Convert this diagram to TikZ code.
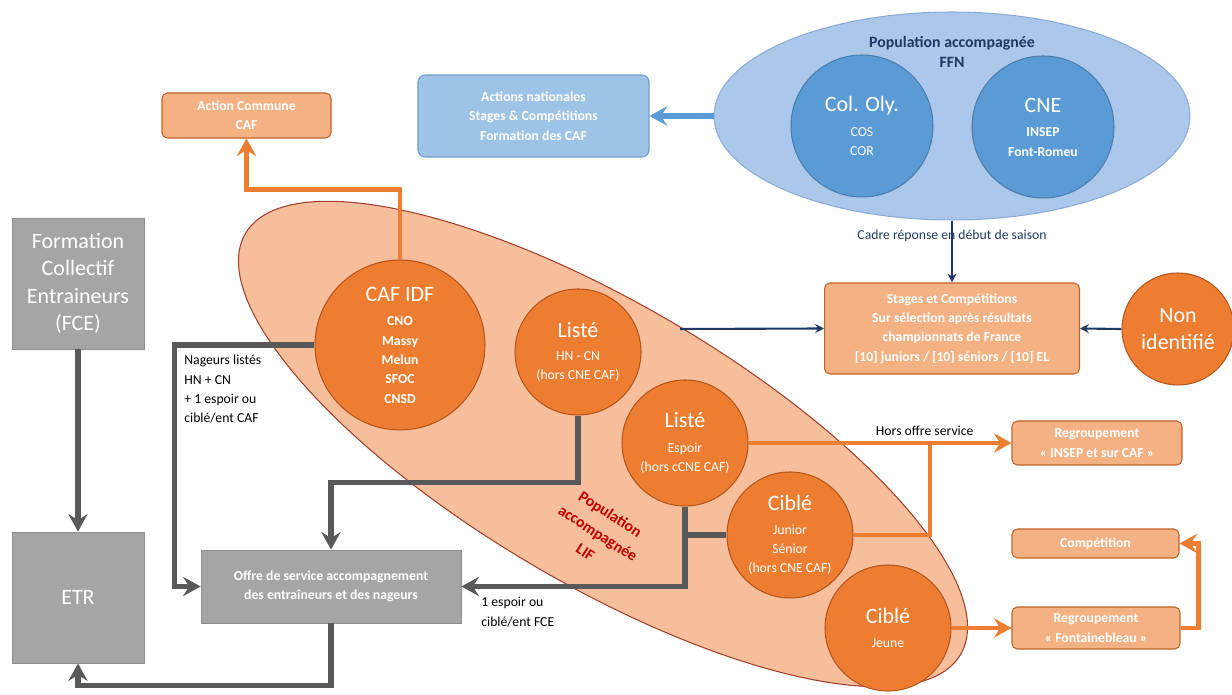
\documentclass[tikz,border=0pt]{standalone}
\usepackage{fontspec}
\setmainfont{Carlito}
\usepackage{tikz}
\usetikzlibrary{positioning}
\usetikzlibrary{shapes.geometric}
\usetikzlibrary{arrows.meta}

\definecolor{popsalmon}{HTML}{F7BE9B}
\definecolor{popedge}{HTML}{A0402A}
\definecolor{circorange}{HTML}{ED7D31}
\definecolor{circedge}{HTML}{B5541C}
\definecolor{boxorange}{HTML}{F4B183}
\definecolor{boxedge}{HTML}{C0632A}
\definecolor{boxgray}{HTML}{A5A5A5}
\definecolor{grayedge}{HTML}{8C8C8C}
\definecolor{lingray}{HTML}{595959}
\definecolor{ffnblue}{HTML}{ABC7E9}
\definecolor{ffnedge}{HTML}{8CAAD6}
\definecolor{circblue}{HTML}{5B9BD5}
\definecolor{circbluedge}{HTML}{4A7DB0}
\definecolor{actblue}{HTML}{9DC3E6}
\definecolor{actedge}{HTML}{6E9ACB}
\definecolor{navy}{HTML}{1F3864}
\definecolor{lifred}{HTML}{C00000}

\newcommand{\fntbig}{\fontsize{12.5}{15.5}\selectfont}
\newcommand{\fntsm}{\fontsize{7.8}{11}\selectfont}
\newcommand{\fnttitle}{\fontsize{9}{11.4}\selectfont}
\newcommand{\fntlif}{\fontsize{9}{13}\selectfont}

\tikzset{
  lifzone/.style={ellipse,draw=popedge,fill=popsalmon,line width=0.6pt,inner sep=0pt,
    minimum width=16.6cm,minimum height=5.6cm},
  bluezone/.style={ellipse,draw=ffnedge,fill=ffnblue,line width=0.6pt,inner sep=0pt,
    minimum width=9.52cm,minimum height=4.16cm},
  popcircle/.style={circle,draw=circedge,fill=circorange,line width=0.6pt,text=white,
    align=center,inner sep=0pt,minimum size=2.52cm,font=\fntsm},
  bluecircle/.style={circle,draw=circbluedge,fill=circblue,line width=0.6pt,text=white,
    align=center,inner sep=0pt,minimum size=2.84cm,font=\fntsm},
  orangebox/.style={draw=boxedge,fill=boxorange,rounded corners=3pt,line width=0.6pt,
    text=white,align=center,inner sep=0pt,font=\fntsm\bfseries},
  actbox/.style={draw=actedge,fill=actblue,rounded corners=4pt,line width=0.6pt,
    text=white,align=center,inner sep=0pt,font=\fntsm\bfseries,
    minimum width=4.62cm,minimum height=1.64cm},
  graybox/.style={draw=grayedge,fill=boxgray,line width=0.5pt,text=white,align=center,
    inner sep=0pt},
  notetxt/.style={font=\fntsm,align=left,inner sep=0pt},
  grayline/.style={draw=lingray,line width=3pt},
  grayarrow/.style={grayline,-{Stealth[length=10pt,width=11pt,inset=3.5pt]}},
  orangeline/.style={draw=circorange,line width=2.8pt},
  orangearrow/.style={orangeline,-{Stealth[length=10pt,width=11pt,inset=3.5pt]}},
  bluearrow/.style={draw=circblue,line width=3.2pt,-{Stealth[length=10pt,width=11pt,inset=3.5pt]}},
  navyarrow/.style={draw=navy,line width=1.2pt,-{Stealth[length=5pt,width=5pt]}}
}

\begin{document}
\begin{tikzpicture}[x=0.02cm,y=-0.02cm]
\useasboundingbox (0,0) rectangle (1232,695);

% population accompagnee LIF
\node[lifzone,rotate=-30.5] (lif) at (603,444) {};
\node[popcircle,font=\fntsm\bfseries,minimum size=3.4cm] (cafidf) at (400,345)
  {{\fntbig\mdseries CAF IDF}\\[3pt]CNO\\Massy\\Melun\\SFOC\\CNSD};
\node[popcircle] (listehn) at (578,352) {{\fntbig Listé}\\[2.3pt]HN - CN\\(hors CNE CAF)};
\node[popcircle] (listeesp) at (685,443) {{\fntbig Listé}\\[2.8pt]Espoir\\(hors cCNE CAF)};
\node[popcircle] (ciblejun) at (790,535) {{\fntbig Ciblé}\\[2.3pt]Junior\\Sénior\\(hors CNE CAF)};
\node[popcircle] (ciblejeu) at (888,628) {{\fntbig Ciblé}\\[2.3pt]Jeune};
\node[font=\fntlif\bfseries,text=lifred,align=center,rotate=-33] (liftxt) at (598,533)
  {Population\\accompagnée\\LIF};

% population accompagnee FFN
\node[bluezone] (ffn) at (952,116) {};
\node[font=\fnttitle\bfseries,text=navy,align=center] (ffntitle) at (952,52)
  {Population accompagnée\\FFN};
\node[bluecircle] (cololy) at (862,126) {{\fntbig Col. Oly.}\\[3pt]COS\\COR};
\node[bluecircle,font=\fntsm\bfseries] (cne) at (1043,127) {{\fntbig\mdseries CNE}\\[3pt]INSEP\\Font-Romeu};
\node[actbox] (actnat) at (533.5,116) {Actions nationales\\Stages \& Compétitions\\Formation des CAF};

% boites
\node[orangebox,minimum width=3.38cm,minimum height=0.9cm] (actcaf) at (246.5,115.5)
  {Action Commune\\CAF};
\node[graybox,font=\fntbig,minimum width=2.64cm,minimum height=2.62cm] (fce) at (78,283.5)
  {Formation\\Collectif\\Entraineurs\\(FCE)};
\node[graybox,font=\fntbig,minimum width=2.64cm,minimum height=2.62cm] (etr) at (78,597.5) {ETR};
\node[graybox,font=\fntsm\bfseries,minimum width=5.2cm,minimum height=1.46cm] (offre) at (331,586.5)
  {Offre de service accompagnement\\des entraîneurs et des nageurs};
\node[orangebox,minimum width=5.1cm,minimum height=1.82cm] (stages) at (952,328.5)
  {Stages  et Compétitions\\Sur sélection après résultats\\championnats de France\\{[10]} juniors / [10] séniors / [10] EL};
\node[popcircle,font=\fntbig,minimum size=2.24cm] (nonid) at (1178,329) {Non\\identifié};
\node[orangebox,minimum width=3.4cm,minimum height=0.88cm] (insep) at (1097,443)
  {Regroupement\\« INSEP et sur CAF »};
\node[orangebox,minimum width=3.34cm,minimum height=0.58cm] (compet) at (1095.5,543.5) {Compétition};
\node[orangebox,minimum width=3.36cm,minimum height=0.84cm] (fontbl) at (1096,628)
  {Regroupement\\« Fontainebleau »};

% textes libres
\node[notetxt,anchor=north west] (nagtxt) at (184,355) {Nageurs listés\\HN + CN\\+ 1 espoir ou\\ciblé/ent CAF};
\node[notetxt,anchor=north west] (espfce) at (481,597) {1 espoir ou\\ciblé/ent FCE};

% liaisons
\coordinate (lifedge) at (680,329);
\coordinate (horsjoin) at (930,443);
\draw[bluearrow] (ffn.west) -- (actnat.east);
\draw[navyarrow] (ffn.south) -- node[pos=0.24,font=\fntsm,text=navy,inner sep=0pt]
  {Cadre réponse en début de saison} (stages.north);
\draw[navyarrow] (nonid.west) -- (stages.east);
\draw[navyarrow] (lifedge) -- (stages.west);
\draw[orangearrow] (cafidf.north) -- ++(0,-70) -| (actcaf.south);
\draw[grayarrow] (fce.south) -- (etr.north);
\draw[grayarrow] (cafidf.west) -- ++(-140,0) |- (offre.west);
\draw[grayarrow] (listehn.south) -- ++(0,67) -| (offre.north);
\draw[grayarrow] (listeesp.south) |- (offre.east);
\draw[grayline] (ciblejun.west) -- (ciblejun.west -| listeesp.south);
\draw[grayarrow] (offre.south) -- ++(0,62) -| (etr.south);
\draw[orangearrow] (listeesp.east) -- node[pos=0.67,above=2pt,font=\fntsm,inner sep=1pt]
  {Hors offre service} (insep.west);
\draw[orangeline] (ciblejun.east) -| (horsjoin);
\draw[orangearrow] (ciblejeu.east) -- (fontbl.west);
\draw[orangearrow] (fontbl.east) -- ++(18,0) |- (compet.east);
\end{tikzpicture}
\end{document}
